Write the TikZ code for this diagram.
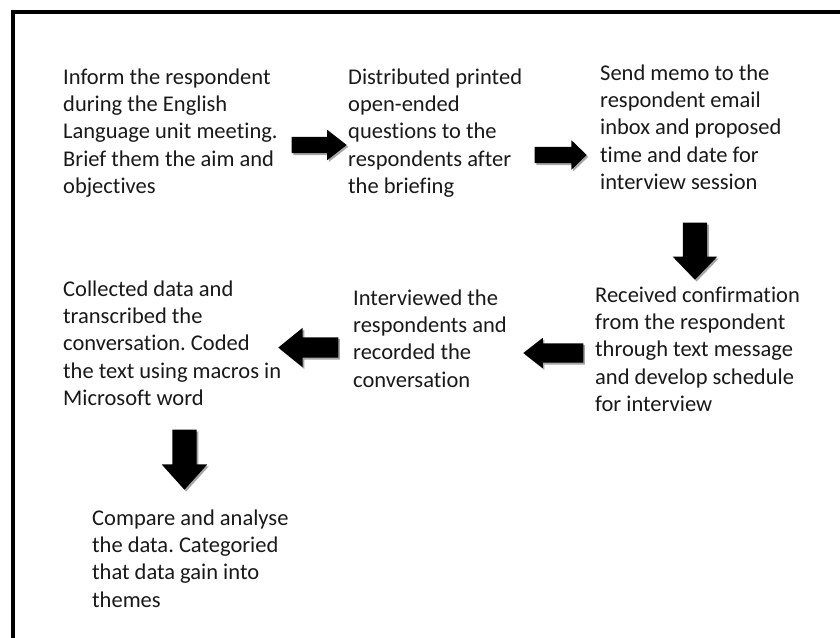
\documentclass[tikz,border=0pt]{standalone}
\usepackage{fontspec}
\setmainfont{Carlito}[Ligatures=NoCommon]
\usetikzlibrary{shapes.arrows,shadows}
\frenchspacing
\begin{document}
\begin{tikzpicture}[x=1pt,y=-1pt,
  txt/.style={anchor=base west,inner sep=0pt,text=black!90,
    font=\fontsize{22.5}{27.4}\selectfont},
  blockarrow/.style={single arrow,fill=black,draw=none,anchor=tip,
    single arrow head indent=0pt,
    drop shadow={shadow xshift=1.6pt,shadow yshift=-1.8pt,fill=black,opacity=0.35}},
  harrow/.style={blockarrow,inner xsep=0pt,inner ysep=#1},
  varrow/.style={blockarrow,inner ysep=0pt,inner xsep=#1,shape border rotate=270}]
\useasboundingbox[fill=white] (0,0) rectangle (840,637);
% frame
\draw[line width=4pt,black] (12.5,650) -- (12.5,11.5) -- (850,11.5);
% texts
\node[txt] (t1) at (63,84) {\parbox[t]{280pt}{\raggedright Inform the respondent\\during the English\\Language unit meeting.\\Brief them the aim and\\objectives}};
\node[txt] (t2) at (348,84) {\parbox[t]{240pt}{\raggedright Distributed printed\\open-ended\\questions to the\\respondents after\\the briefing}};
\node[txt] (t3) at (600,80) {\parbox[t]{240pt}{\raggedright Send memo to the\\respondent email\\inbox and proposed\\time and date for\\interview session}};
\node[txt] (t4) at (595,302) {\parbox[t]{240pt}{\raggedright Received confirmation\\from the respondent\\through text message\\and develop schedule\\for interview}};
\node[txt] (t5) at (353,305) {\parbox[t]{240pt}{\raggedright Interviewed the\\respondents and\\recorded the\\conversation}};
\node[txt] (t6) at (63,296) {\parbox[t]{280pt}{\raggedright Collected data and\\transcribed the\\conversation. Coded\\the text using macros in\\Microsoft word}};
\node[txt] (t7) at (92,525) {\parbox[t]{280pt}{\raggedright Compare and analyse\\the data. Categoried\\that data gain into\\themes}};
% block arrows
\node[harrow=8pt,minimum height=55pt,single arrow head extend=7pt,single arrow tip angle=76] (a1) at (347,145) {};
\node[harrow=8pt,minimum height=52pt,single arrow head extend=6.5pt,single arrow tip angle=88] (a2) at (587,155) {};
\node[varrow=12pt,minimum height=57pt,single arrow head extend=10pt,single arrow tip angle=88] (a3) at (695,280) {};
\node[harrow=9.5pt,minimum height=60pt,single arrow head extend=5.5pt,single arrow tip angle=76,shape border rotate=180] (a4) at (523,353) {};
\node[harrow=10pt,minimum height=60pt,single arrow head extend=9.5pt,single arrow tip angle=78,shape border rotate=180] (a5) at (278,347.5) {};
\node[varrow=12pt,minimum height=60pt,single arrow head extend=10.5pt,single arrow tip angle=84] (a6) at (184.5,490) {};
\end{tikzpicture}
\end{document}
